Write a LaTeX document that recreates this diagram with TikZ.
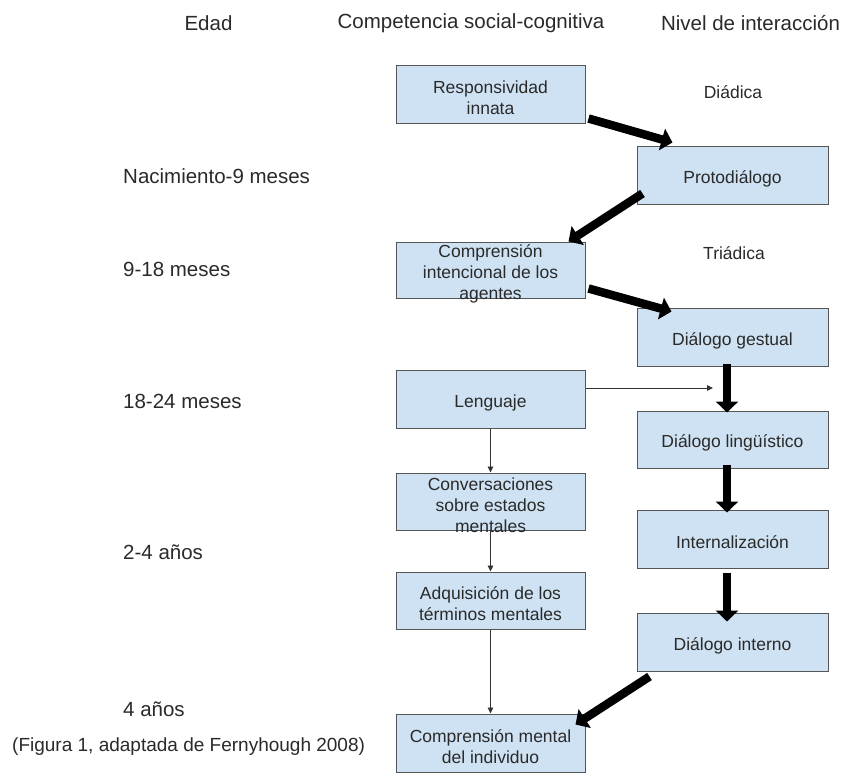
\documentclass[tikz,border=0pt]{standalone}
\usepackage{fontspec}
\setmainfont{Liberation Sans}
\usetikzlibrary{arrows.meta,calc}
\definecolor{boxfill}{HTML}{CFE2F3}
\definecolor{boxline}{HTML}{555555}
\definecolor{txt}{HTML}{2A2A2A}
\newcommand{\bxt}[3]{\parbox[c][#2pt][c]{#1pt}{\centering\vspace*{7pt}\fontsize{17.5}{21}\selectfont #3\par}}
\begin{document}
\begin{tikzpicture}[x=1pt,y=-1pt,
  box/.style={draw=boxline, fill=boxfill, line width=1pt, inner sep=0pt, text=txt},
  head/.style={text=txt, inner sep=0pt, font=\fontsize{20.5}{24}\selectfont},
  agelab/.style={text=txt, inner sep=0pt, anchor=west, font=\fontsize{20.5}{24}\selectfont},
  levlab/.style={text=txt, inner sep=0pt, font=\fontsize{17.5}{21}\selectfont},
  bigarrow/.style={line width=8.5pt, black, -{Triangle[length=11pt,width=22pt]}},
  thinarrow/.style={line width=0.9pt, black!80, -{Triangle[length=6pt,width=5.5pt]}}]
\fill[white] (0,0) rectangle (845,772);
\useasboundingbox (0,0) rectangle (845,772);

% headers
\node[head] (hedad) at (208.5,23) {Edad};
\node[head] (hcomp) at (471,23) {Competencia social-cognitiva};
\node[head] (hniv) at (750.5,23) {Nivel de interacción};

% age labels
\node[agelab] (a1) at (123,176) {Nacimiento-9 meses};
\node[agelab] (a2) at (123,269) {9-18 meses};
\node[agelab] (a3) at (123,401) {18-24 meses};
\node[agelab] (a4) at (123,552) {2-4 años};
\node[agelab] (a5) at (123,709) {4 años};
\node[text=txt, inner sep=0pt, anchor=west, font=\fontsize{19}{23}\selectfont] (cap) at (12,747) {(Figura 1, adaptada de Fernyhough 2008)};

% level labels
\node[levlab] (diad) at (733,92) {Diádica};
\node[levlab] (triad) at (734,253) {Triádica};

% left column boxes
\node[box] (resp) at (490.5,94) {\bxt{189}{58}{Responsividad\\innata}};
\node[box] (compint) at (490.5,270) {\bxt{189}{56}{Comprensión\\intencional de los\\agentes}};
\node[box] (leng) at (490.5,399) {\bxt{189}{58}{Lenguaje}};
\node[box] (conv) at (490.5,501.5) {\bxt{189}{57}{Conversaciones\\sobre estados\\mentales}};
\node[box] (adq) at (490.5,600.5) {\bxt{189}{57}{Adquisición de los\\términos mentales}};
\node[box] (compment) at (490.5,743) {\bxt{189}{58}{Comprensión mental\\del individuo}};

% right column boxes
\node[box] (proto) at (732.5,175) {\bxt{191}{58}{Protodiálogo}};
\node[box] (gest) at (732.5,337) {\bxt{191}{58}{Diálogo gestual}};
\node[box] (ling) at (732.5,439.5) {\bxt{191}{57}{Diálogo lingüístico}};
\node[box] (intern) at (732.5,539) {\bxt{191}{58}{Internalización}};
\node[box] (dint) at (732.5,642) {\bxt{191}{58}{Diálogo interno}};

% thick arrows
\draw[bigarrow] ($(resp.south east)+(3,-5)$) -- ($(proto.north west)+(36,-3)$);
\draw[bigarrow] ($(proto.south west)+(6,-11)$) -- ($(compint.north east)+(-17,0)$);
\draw[bigarrow] ($(compint.south east)+(3,-10)$) -- ($(gest.north west)+(35,4)$);
\draw[bigarrow] ($(gest.south)+(-5.5,-3)$) -- ($(ling.north)+(-5.5,2)$);
\draw[bigarrow] ($(ling.south)+(-5.5,-4)$) -- ($(intern.north)+(-5.5,3)$);
\draw[bigarrow] ($(intern.south)+(-5.5,4)$) -- ($(dint.north)+(-5.5,9)$);
\draw[bigarrow] ($(dint.south west)+(13,5)$) -- ($(compment.north east)+(-10,11)$);

% thin arrows
\coordinate (lend) at (713,388);
\draw[thinarrow] ($(leng.east)+(0,-11)$) -- (lend);
\draw[thinarrow] (leng.south) -- (conv.north);
\draw[thinarrow] (conv.south) -- (adq.north);
\draw[thinarrow] (adq.south) -- (compment.north);
\end{tikzpicture}
\end{document}
